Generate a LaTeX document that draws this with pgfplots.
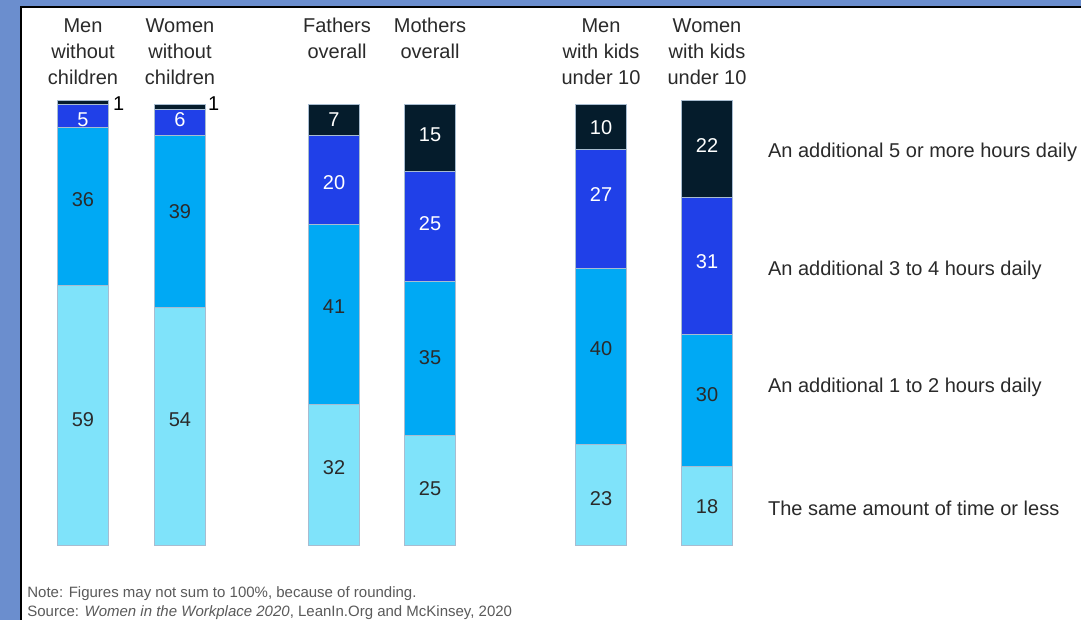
\documentclass[border=0pt]{standalone}
\usepackage{fontspec}
\setmainfont{Liberation Sans}
\usepackage{pgfplots}
\pgfplotsset{compat=1.18}
\definecolor{frameblue}{HTML}{6B8ECE}
\definecolor{cLight}{HTML}{7FE3FA}
\definecolor{cCyan}{HTML}{00A9F4}
\definecolor{cBlue}{HTML}{2040E8}
\definecolor{cNavy}{HTML}{051C2C}
\definecolor{cEdge}{HTML}{A8BCD0}
\definecolor{txt}{HTML}{2A2A2A}
\definecolor{notegray}{HTML}{5A5A5A}
\pgfplotsset{myaxis/.style={at={(0,0)}, anchor=south west, scale only axis,
  width=540.5pt, height=310pt, xmin=0, xmax=1081, ymin=-16.78, ymax=123.81,
  hide axis, clip=false}}
\begin{document}
\begin{tikzpicture}[font=\fontsize{10}{13}\selectfont, text=txt]
\useasboundingbox (0,0) rectangle (540.5pt,310pt);
\fill[frameblue] (0,0) rectangle (540.5pt,310pt);
\fill[white] (10.5pt,0) rectangle (540.5pt,306.25pt);
\draw[black, line width=1pt] (10.5pt,0) -- (10.5pt,306.25pt) -- (540.5pt,306.25pt);
\begin{axis}[myaxis, ybar stacked, bar width=25.5pt,
  every axis plot/.append style={draw=cEdge, line width=0.5pt}]
\addplot[fill=cLight] coordinates {(83,59) (180,54) (334,32) (430,25) (601,23) (707,18)};
\addplot[fill=cCyan] coordinates {(83,36) (180,39) (334,41) (430,35) (601,40) (707,30)};
\addplot[fill=cBlue] coordinates {(83,5) (180,6) (334,20) (430,25) (601,27) (707,31)};
\addplot[fill=cNavy] coordinates {(83,1) (180,1) (334,7) (430,15) (601,10) (707,22)};
\end{axis}
\begin{axis}[myaxis]
\addplot[draw=none, mark=none, nodes near coords, point meta=explicit symbolic,
  nodes near coords style={anchor=center, text=white, font=\fontsize{10}{12}\selectfont}]
  coordinates {(83,96.6)[5] (180,96.6)[6] (334,82.31)[20] (334,96.6)[7]
  (430,73.02)[25] (430,93.2)[15] (601,79.59)[27] (601,94.78)[10] (707,64.4)[31] (707,90.7)[22]};
\addplot[draw=none, mark=none, nodes near coords, point meta=explicit symbolic,
  nodes near coords style={anchor=center, text=txt, font=\fontsize{10}{12}\selectfont}]
  coordinates {(83,28.57)[59] (83,78.46)[36] (180,28.57)[54] (180,75.74)[39]
  (334,17.69)[32] (334,54.2)[41] (430,12.93)[25] (430,42.63)[35]
  (601,10.66)[23] (601,44.67)[40] (707,8.84)[18] (707,34.24)[30]};
\addplot[draw=none, mark=none, nodes near coords, point meta=explicit symbolic,
  nodes near coords style={anchor=west, text=black, font=\fontsize{10}{12}\selectfont}]
  coordinates {(106,100.2)[1] (201,100.2)[1]};
\node[align=center] at (axis cs:83,112.0) {Men\\without\\children};
\node[align=center] at (axis cs:180,112.0) {Women\\without\\children};
\node[align=center] at (axis cs:337,115.0) {Fathers\\overall};
\node[align=center] at (axis cs:430,115.0) {Mothers\\overall};
\node[align=center] at (axis cs:601,112.0) {Men\\with kids\\under 10};
\node[align=center] at (axis cs:707,112.0) {Women\\with kids\\under 10};
\node[anchor=west] at (axis cs:761,89.3) {An additional 5 or more hours daily};
\node[anchor=west] at (axis cs:761,62.6) {An additional 3 to 4 hours daily};
\node[anchor=west] at (axis cs:761,36.05) {An additional 1 to 2 hours daily};
\node[anchor=west] at (axis cs:761,8.6) {The same amount of time or less};
\end{axis}
\node[anchor=west, inner sep=0pt, font=\fontsize{7.5}{9}\selectfont, text=notegray] at (13.5pt,13pt) {Note: Figures may not sum to 100\%, because of rounding.};
\node[anchor=west, inner sep=0pt, font=\fontsize{7.5}{9}\selectfont, text=notegray] at (13.5pt,3.6pt) {Source: \textit{Women in the Workplace 2020}, LeanIn.Org and McKinsey, 2020};
\end{tikzpicture}
\end{document}
